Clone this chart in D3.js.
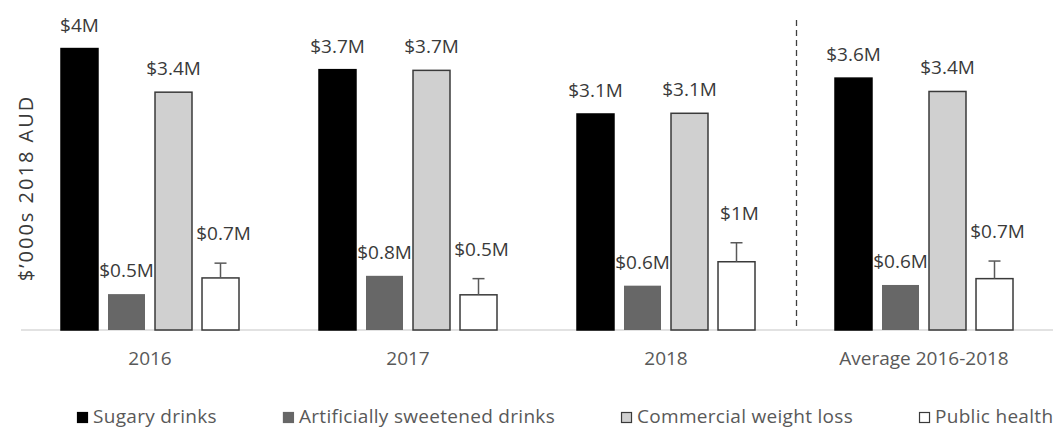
<!DOCTYPE html>
<html>
<head>
<meta charset="utf-8">
<script src="https://cdn.jsdelivr.net/npm/d3@7"></script>
<style>
  body { margin: 0; background: #fff; }
  svg { display: block; font-family: "Open Sans", sans-serif; }
</style>
</head>
<body>
<div id="chart"></div>
<script>
// chart data (millions, 2018 AUD)
var groups = ["2016", "2017", "2018", "Average 2016-2018"];
var seriesNames = ["Sugary drinks", "Artificially sweetened drinks", "Commercial weight loss", "Public health"];
var sugaryDrinks = [4.0, 3.70, 3.07, 3.58];
var artificialDrinks = [0.51, 0.77, 0.63, 0.64];
var weightLoss = [3.38, 3.69, 3.08, 3.39];
var publicHealth = [0.74, 0.50, 0.97, 0.73];
var publicHealthUpper = [0.95, 0.73, 1.24, 0.98];
var yLabel = "$\u2019000s 2018 AUD";

var seriesValues = [sugaryDrinks, artificialDrinks, weightLoss, publicHealth];
var fills = ["#000000", "#676767", "#d0d0d0", "#ffffff"];
var strokes = ["#000000", "none", "#3a3a3a", "#3a3a3a"];

var width = 1060, height = 429;
var svg = d3.select("#chart").append("svg")
    .attr("width", width)
    .attr("height", height);

var x0 = d3.scaleBand().domain(groups).range([21, 1053]).padding(0);
var x1 = d3.scaleBand().domain(seriesNames).range([40, 218]).paddingInner(0.213);
var y = d3.scaleLinear().domain([0, 4.69]).range([330, 0]);

var fmt = d3.format(".1~f");

// flatten into one record per bar
var bars = [];
groups.forEach(function(g, gi) {
    seriesNames.forEach(function(s, si) {
        bars.push({
            group: g, series: s, si: si,
            value: seriesValues[si][gi],
            upper: si === 3 ? publicHealthUpper[gi] : null
        });
    });
});

// baseline
svg.append("line")
    .attr("x1", x0.range()[0]).attr("x2", x0.range()[1])
    .attr("y1", y(0)).attr("y2", y(0))
    .attr("stroke", "#d9d9d9").attr("stroke-width", 1.5);

// separator before the average group
var sepX = x0("Average 2016-2018") + 1.5;
svg.append("line")
    .attr("x1", sepX).attr("x2", sepX)
    .attr("y1", 20).attr("y2", y(0))
    .attr("stroke", "#404040").attr("stroke-width", 1.3)
    .attr("stroke-dasharray", "6,4");

var barG = svg.append("g");
barG.selectAll("rect")
    .data(bars)
    .enter().append("rect")
    .attr("x", function(d) { return x0(d.group) + x1(d.series); })
    .attr("y", function(d) { return y(d.value); })
    .attr("width", x1.bandwidth())
    .attr("height", function(d) { return y(0) - y(d.value); })
    .attr("fill", function(d) { return fills[d.si]; })
    .attr("stroke", function(d) { return strokes[d.si]; })
    .attr("stroke-width", 1.5);

// error bars on public health
var errs = bars.filter(function(d) { return d.upper != null; });
var errG = svg.append("g").attr("stroke", "#595959").attr("stroke-width", 1.5);
errs.forEach(function(d) {
    var cx = x0(d.group) + x1(d.series) + x1.bandwidth() / 2;
    errG.append("line")
        .attr("x1", cx).attr("x2", cx)
        .attr("y1", y(d.value)).attr("y2", y(d.upper));
    errG.append("line")
        .attr("x1", cx - 6).attr("x2", cx + 6)
        .attr("y1", y(d.upper)).attr("y2", y(d.upper));
});

// value labels
svg.append("g").selectAll("text")
    .data(bars)
    .enter().append("text")
    .attr("x", function(d) { return x0(d.group) + x1(d.series) + x1.bandwidth() / 2 + (d.upper != null ? 3 : 0); })
    .attr("y", function(d) { return d.upper != null ? y(d.upper) - 23 : y(d.value) - 17; })
    .attr("text-anchor", "middle")
    .attr("font-size", 19)
    .attr("fill", "#3a3a3a")
    .text(function(d) { return "$" + fmt(d.value) + "M"; });

// x axis labels (no ticks)
var xAxis = svg.append("g")
    .attr("transform", "translate(0," + y(0) + ")")
    .call(d3.axisBottom(x0).tickSize(0).tickPadding(22));
xAxis.select(".domain").remove();
xAxis.selectAll("text")
    .attr("font-family", "Open Sans")
    .attr("font-size", 19)
    .attr("fill", "#595959");

// y axis title
svg.append("text")
    .attr("transform", "translate(33,188) rotate(-90)")
    .attr("text-anchor", "middle")
    .attr("font-size", 20)
    .attr("letter-spacing", 2)
    .attr("fill", "#3a3a3a")
    .text(yLabel);

// legend
var legend = svg.append("g").attr("transform", "translate(77,423)");
var lx = 0;
seriesNames.forEach(function(name, i) {
    var item = legend.append("g").attr("transform", "translate(" + lx + ",0)");
    item.append("rect")
        .attr("x", 0.5).attr("y", -10.5)
        .attr("width", 10).attr("height", 10)
        .attr("fill", fills[i])
        .attr("stroke", i === 2 || i === 3 ? "#3a3a3a" : fills[i])
        .attr("stroke-width", 1.2);
    var t = item.append("text")
        .attr("x", 16).attr("y", 0)
        .attr("font-size", 19)
        .attr("letter-spacing", 0.3)
        .attr("fill", "#595959")
        .text(name);
    lx += 16 + t.node().getComputedTextLength() + 66;
});
</script>
</body>
</html>
